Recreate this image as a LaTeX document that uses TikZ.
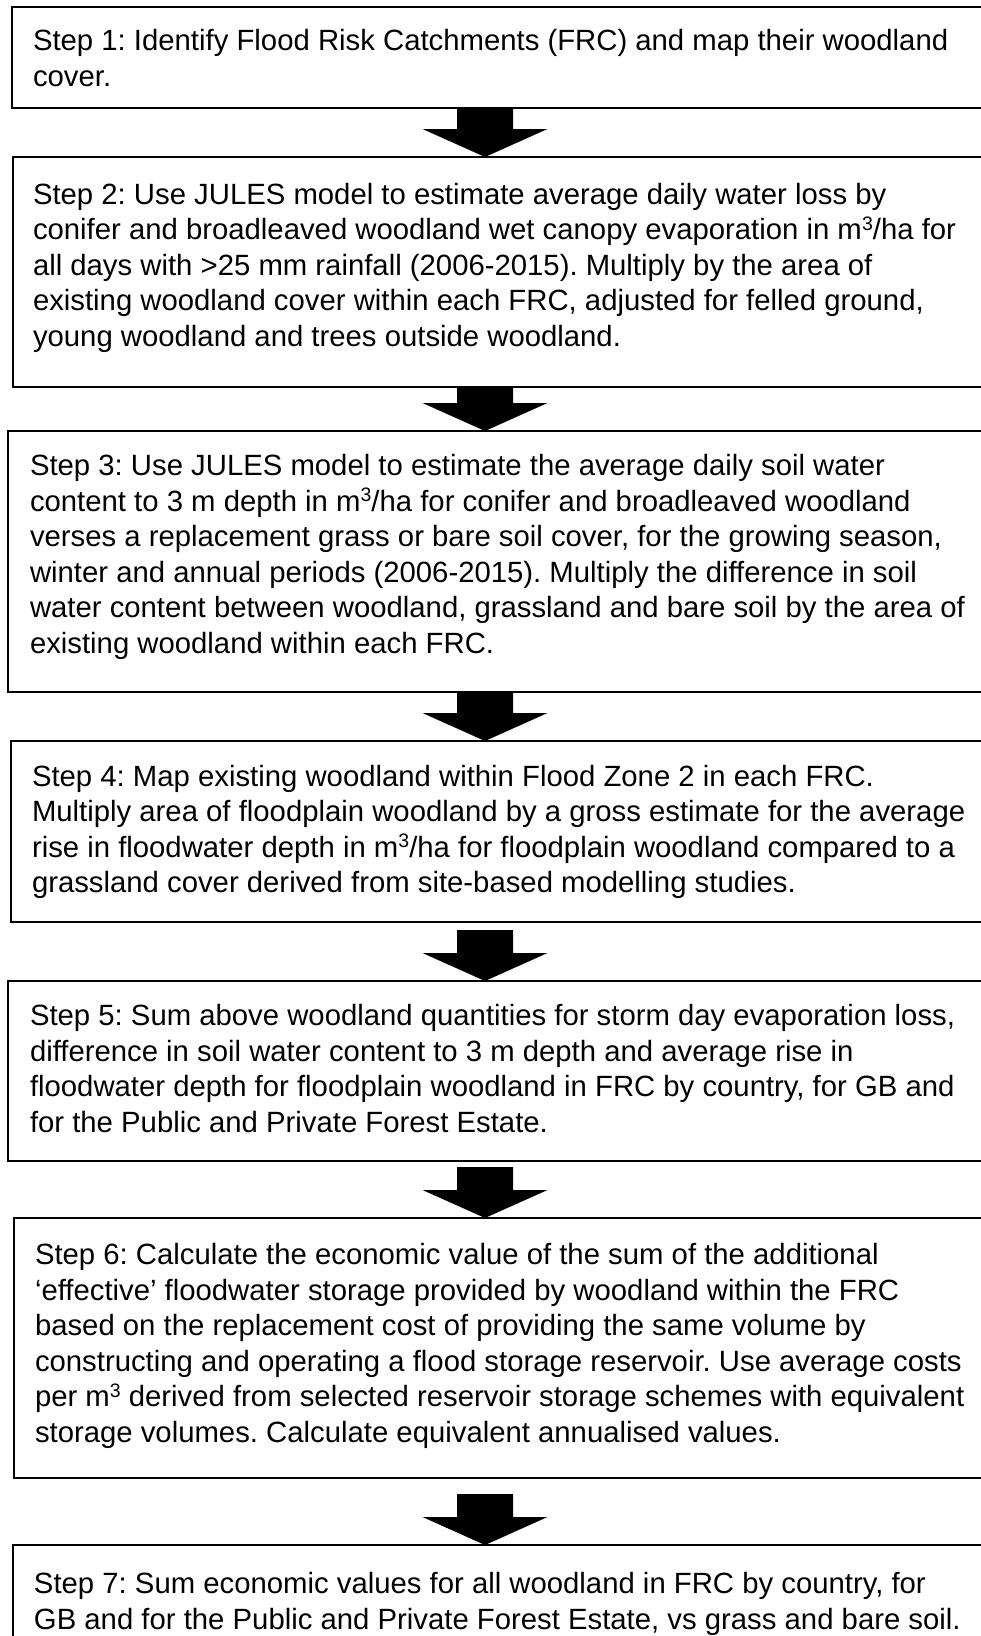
\documentclass[tikz,border=0pt]{standalone}
\usepackage{fontspec}
\setmainfont{Liberation Sans}
\usetikzlibrary{calc}
\frenchspacing
\tikzset{
  stepbox/.style={draw=black, line width=2pt, fill=white, rectangle, anchor=north west, inner sep=0pt, outer sep=0pt},
  steptext/.style={anchor=north west, inner sep=0pt, outer sep=0pt, align=left, font=\fontsize{29.3}{35.6}\selectfont\frenchspacing},
  blockarrow/.style={fill=black, draw=none},
}
\newcommand\supthree{\raisebox{9.5pt}{\fontsize{19.5}{19.5}\selectfont 3}}
% #1 = target box, #2 = shaft length
\newcommand\flowarrow[2]{%
  \fill[blockarrow] (#1.north -| ax) -- ++(-62.5,-28) -- ++(34.5,0) -- ++(0,-#2) -- ++(56,0) -- ++(0,#2) -- ++(34.5,0) -- cycle;%
}
\begin{document}
\begin{tikzpicture}[x=1pt,y=-1pt]
\fill[white] (0,0) rectangle (981,1636);
\useasboundingbox (0,0) rectangle (981,1636);
\coordinate (ax) at (485,0);

\node[stepbox, minimum width=973pt, minimum height=101pt] (b1) at (12,7) {};
\node[stepbox, minimum width=972pt, minimum height=230pt] (b2) at (13,157) {};
\node[stepbox, minimum width=977pt, minimum height=261pt] (b3) at (8,431) {};
\node[stepbox, minimum width=974pt, minimum height=181pt] (b4) at (11,741) {};
\node[stepbox, minimum width=977pt, minimum height=180pt] (b5) at (8,981) {};
\node[stepbox, minimum width=971pt, minimum height=260pt] (b6) at (14,1218) {};
\node[stepbox, minimum width=972pt, minimum height=200pt] (b7) at (13,1545) {};

\node[steptext] (t1) at (33,25.6) {\strut Step 1: Identify Flood Risk Catchments (FRC) and map their woodland\\cover.};
\node[steptext] (t2) at (33,179.1) {\strut Step 2: Use JULES model to estimate average daily water loss by\\conifer and broadleaved woodland wet canopy evaporation in m\supthree/ha for\\all days with >25 mm rainfall (2006-2015). Multiply by the area of\\existing woodland cover within each FRC, adjusted for felled ground,\\young woodland and trees outside woodland.};
\node[steptext] (t3) at (30,450.6) {\strut Step 3: Use JULES model to estimate the average daily soil water\\content to 3 m depth in m\supthree/ha for conifer and broadleaved woodland\\verses a replacement grass or bare soil cover, for the growing season,\\winter and annual periods (2006-2015). Multiply the difference in soil\\water content between woodland, grassland and bare soil by the area of\\existing woodland within each FRC.};
\node[steptext] (t4) at (32,761.1) {\strut Step 4: Map existing woodland within Flood Zone 2 in each FRC.\\Multiply area of floodplain woodland by a gross estimate for the average\\rise in floodwater depth in m\supthree/ha for floodplain woodland compared to a\\grassland cover derived from site-based modelling studies.};
\node[steptext] (t5) at (30,1000.6) {\strut Step 5: Sum above woodland quantities for storm day evaporation loss,\\difference in soil water content to 3 m depth and average rise in\\floodwater depth for floodplain woodland in FRC by country, for GB and\\for the Public and Private Forest Estate.};
\node[steptext] (t6) at (35,1239.6) {\strut Step 6: Calculate the economic value of the sum of the additional\\‘effective’ floodwater storage provided by woodland within the FRC\\based on the replacement cost of providing the same volume by\\constructing and operating a flood storage reservoir. Use average costs\\per m\supthree{} derived from selected reservoir storage schemes with equivalent\\storage volumes. Calculate equivalent annualised values.};
\node[steptext] (t7) at (34,1568.6) {\strut Step 7: Sum economic values for all woodland in FRC by country, for\\GB and for the Public and Private Forest Estate, vs grass and bare soil.};

\flowarrow{b2}{21}
\flowarrow{b3}{16}
\flowarrow{b4}{21}
\flowarrow{b5}{23}
\flowarrow{b6}{23}
\flowarrow{b7}{23}
\end{tikzpicture}
\end{document}
